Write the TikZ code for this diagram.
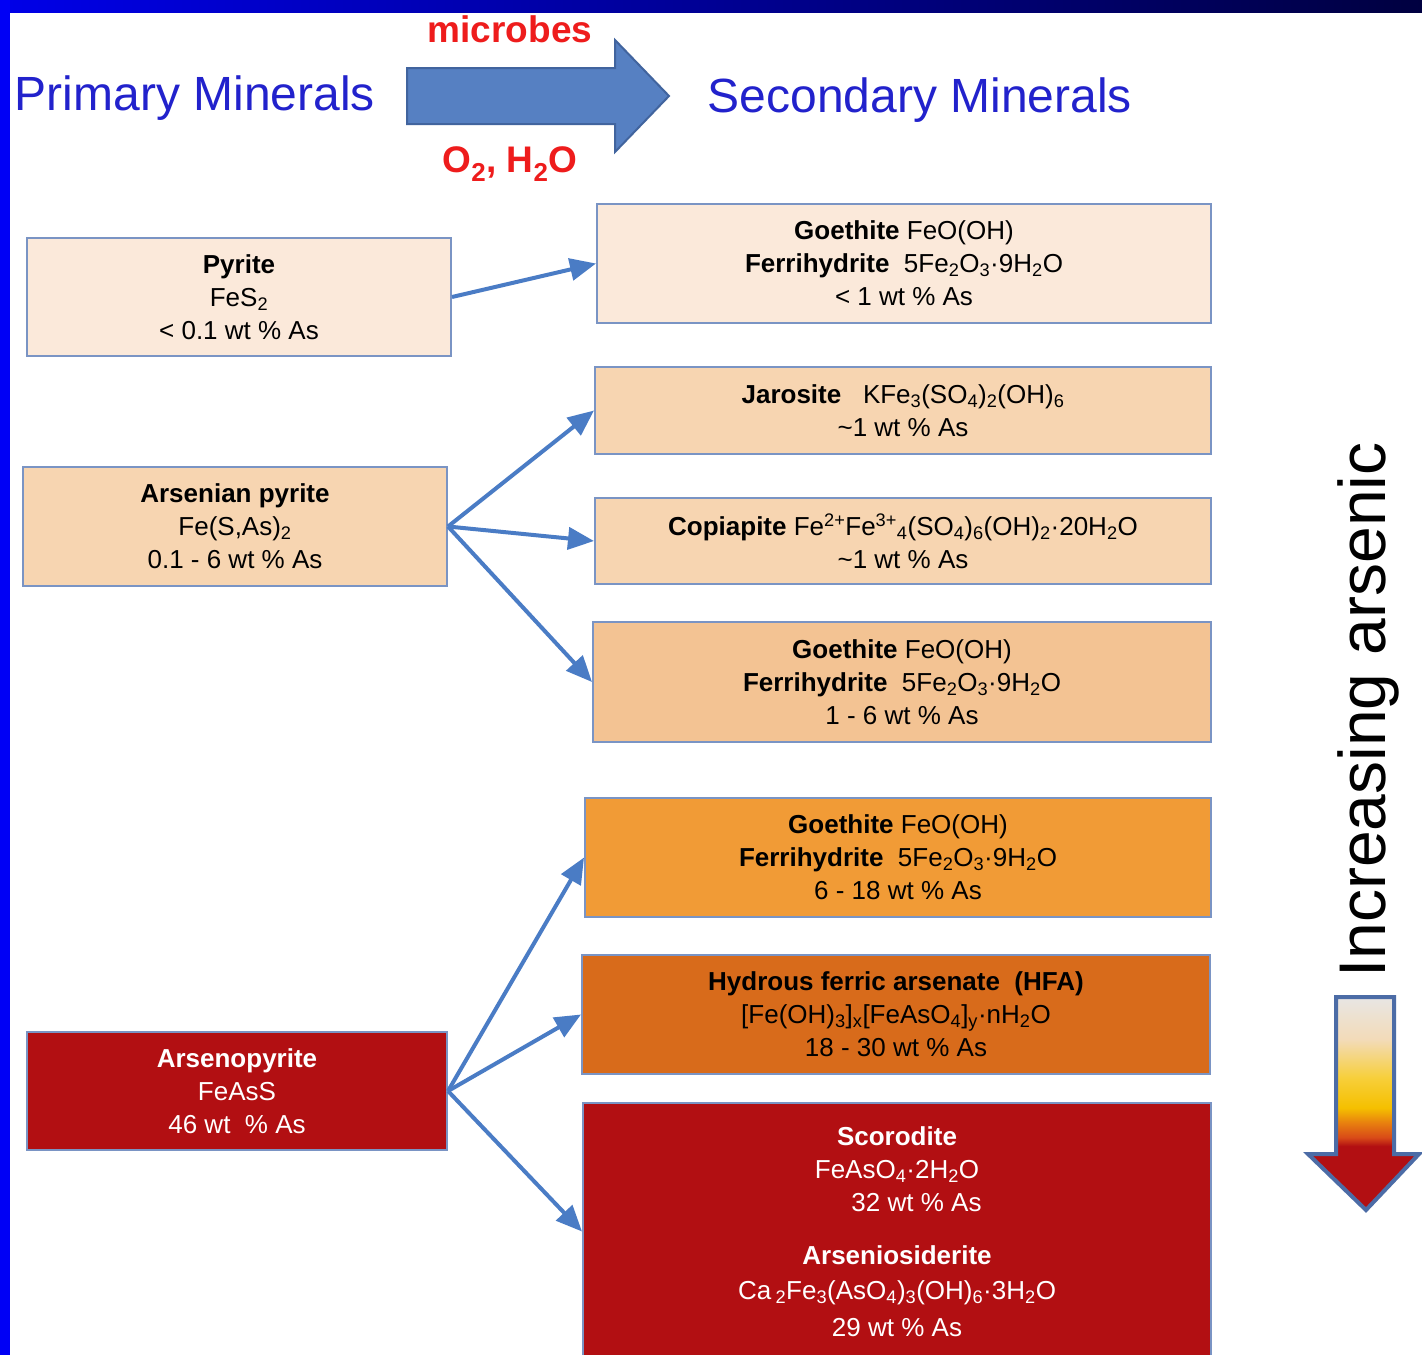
\documentclass[tikz,border=0pt]{standalone}
\usepackage{fontspec}
\setmainfont{Liberation Sans}
\usetikzlibrary{arrows.meta}
\definecolor{PALE}{HTML}{FBE9DA}
\definecolor{PEACH}{HTML}{F7D5B1}
\definecolor{TAN}{HTML}{F3C393}
\definecolor{ORANGE}{HTML}{F19B36}
\definecolor{RUST}{HTML}{D86B1B}
\definecolor{RED}{HTML}{B20F12}
\definecolor{BOXLINE}{HTML}{7A94C4}
\definecolor{LINK}{HTML}{4A7CC5}
\definecolor{HEAD}{HTML}{2222CC}
\definecolor{NOTE}{HTML}{EE1C1C}
\definecolor{BIGARROW}{HTML}{5680C2}
\definecolor{BIGLINE}{HTML}{41649E}
\definecolor{TRENDLINE}{HTML}{4C6CA6}
\definecolor{FRAME}{HTML}{0000F5}
\definecolor{FRAMEL}{HTML}{0000E8}
\definecolor{FRAMER}{HTML}{000040}
\definecolor{AGREY}{HTML}{E8E6E4}
\definecolor{APEACH}{HTML}{F3DBB8}
\definecolor{AYELL}{HTML}{F7CF3A}
\definecolor{AYEL}{HTML}{F5C000}
\definecolor{AORG}{HTML}{E8800F}
\definecolor{AORR}{HTML}{D84A18}
\pgfdeclareverticalshading{arsenic}{100bp}{color(0bp)=(RED); color(40bp)=(RED); color(42bp)=(AORR); color(45.5bp)=(AORG); color(49bp)=(AYEL); color(56bp)=(AYELL); color(65bp)=(APEACH); color(75bp)=(AGREY); color(100bp)=(AGREY)}
\tikzset{
	box/.style = {draw=BOXLINE, line width=2pt, align=center, inner sep=0pt, font=\fontsize{26}{33}\selectfont},
	link/.style = {draw=LINK, line width=4pt, -{Triangle[length=26pt,width=22pt]}},
	title/.style = {text=HEAD, anchor=base, font=\fontsize{48}{56}\selectfont},
	cond/.style = {text=NOTE, anchor=base, font=\fontsize{37}{44}\selectfont\bfseries}
}
\newcommand{\lo}[1]{\textsubscript{#1}}
\newcommand{\hi}[1]{\textsuperscript{#1}}

\begin{document}
\begin{tikzpicture}[x=1pt, y=-1pt]
		\useasboundingbox (0,0) rectangle (1422,1355);
		\fill[white] (0,0) rectangle (1422,1355);
		% frame
		\shade[left color=FRAMEL, right color=FRAMER] (0,0) rectangle (1422,12);
		\fill[FRAME] (0,0) rectangle (10,1355);

		% heading
		\node[title] (primary) at (195,110) {Primary Minerals};
		\node[title] (secondary) at (920,112) {Secondary Minerals};
		\draw[fill=BIGARROW, draw=BIGLINE, line width=2pt, line join=miter]
		      (407,68) -- (615,68) -- (615,40) -- (669,96) -- (615,152) -- (615,124) -- (407,124) -- cycle;
		\node[cond] (microbes) at (510,42) {microbes};
		\node[cond] (oxwater) at (510,172) {O\lo2, H\lo2O};

		% primary minerals
		\node[box, fill=PALE, minimum width=424, minimum height=118] (pyrite) at (239,297)
		      {\textbf{Pyrite}\\ FeS\lo2\\ < 0.1 wt \% As};
		\node[box, fill=PEACH, minimum width=424, minimum height=119] (aspyrite) at (235,526.5)
		      {\textbf{Arsenian pyrite}\\ Fe(S,As)\lo2\\ 0.1 - 6 wt \% As};
		\node[box, fill=RED, text=white, minimum width=420, minimum height=118] (arsenopy) at (237,1091)
		      {\textbf{Arsenopyrite}\\ FeAsS\\ 46 wt \ \% As};

		% secondary minerals
		\node[box, fill=PALE, minimum width=614, minimum height=119] (goe1) at (904,263.5)
		      {\textbf{Goethite} FeO(OH)\\ \textbf{Ferrihydrite}\ \ 5Fe\lo2O\lo3·9H\lo2O\\ < 1 wt \% As};
		\node[box, fill=PEACH, minimum width=616, minimum height=87] (jaro) at (903,410.5)
		      {\textbf{Jarosite}\ \ \ KFe\lo3(SO\lo4)\lo2(OH)\lo6\\ \textasciitilde1 wt \% As};
		\node[box, fill=PEACH, minimum width=616, minimum height=86] (copia) at (903,541)
		      {\textbf{Copiapite} Fe\hi{2+}Fe\hi{3+}\lo4(SO\lo4)\lo6(OH)\lo2·20H\lo2O\\ \textasciitilde1 wt \% As};
		\node[box, fill=TAN, minimum width=618, minimum height=120] (goe2) at (902,682)
		      {\textbf{Goethite} FeO(OH)\\ \textbf{Ferrihydrite}\ \ 5Fe\lo2O\lo3·9H\lo2O\\ 1 - 6 wt \% As};
		\node[box, fill=ORANGE, minimum width=626, minimum height=119] (goe3) at (898,857.5)
		      {\textbf{Goethite} FeO(OH)\\ \textbf{Ferrihydrite}\ \ 5Fe\lo2O\lo3·9H\lo2O\\ 6 - 18 wt \% As};
		\node[box, fill=RUST, minimum width=628, minimum height=119] (hfa) at (896,1014.5)
		      {\textbf{Hydrous ferric arsenate\ \ (HFA)}\\ {}[Fe(OH)\lo3]\lo{x}[FeAsO\lo4]\lo{y}·nH\lo2O\\ 18 - 30 wt \% As};
		\node[box, fill=RED, text=white, minimum width=628, minimum height=257] (scoro) at (897,1231.5)
		      {\textbf{Scorodite}\\ FeAsO\lo4·2H\lo2O\\ \hspace*{1.5em}32 wt \% As\\[20pt]
		       \textbf{Arseniosiderite}\\[2pt] Ca\,\lo2Fe\lo3(AsO\lo4)\lo3(OH)\lo6·3H\lo2O\\[4pt] 29 wt \% As};

		% oxidation paths
		\draw[link] (pyrite.east) -- (goe1.west);
		\draw[link] (aspyrite.east) -- (jaro.west);
		\draw[link] (aspyrite.east) -- (copia.west);
		\draw[link] (aspyrite.east) -- (goe2.west);
		\draw[link] (arsenopy.east) -- (goe3.west);
		\draw[link] (arsenopy.east) -- (hfa.west);
		\draw[link] (arsenopy.east) -- (scoro.west);

		% arsenic trend
		\node[rotate=90, font=\fontsize{66}{70}\selectfont] (trend) at (1368,710) {Increasing arsenic};
		\shadedraw[shading=arsenic, draw=TRENDLINE, line width=4pt, line join=miter]
		      (1336,997) -- (1394,997) -- (1394,1154) -- (1419,1154) -- (1366,1210) -- (1308,1154) -- (1336,1154) -- cycle;
	\end{tikzpicture}
\end{document}
